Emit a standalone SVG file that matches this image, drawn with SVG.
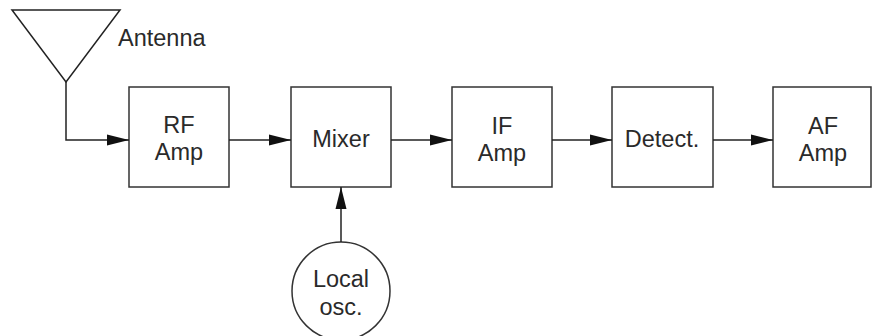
<svg xmlns="http://www.w3.org/2000/svg" width="872" height="336" viewBox="0 0 872 336">
<style>
.b{fill:#fff;stroke:#333;stroke-width:1.5}
.c{fill:none;stroke:#222;stroke-width:1.5}
text{font-family:"Liberation Sans",Arial,sans-serif;font-size:23.5px;fill:#2a2a2a;text-anchor:middle}
</style>
<defs>
<marker id="ah" markerUnits="userSpaceOnUse" markerWidth="22" markerHeight="12" refX="22" refY="6" orient="auto">
<path d="M0,0.5 L22,6 L0,11.5 Z" fill="#111"/>
</marker>
</defs>
<g id="antenna">
<path class="c" d="M12,10 L120,10 L66,82 Z"/>
<text x="118" y="46" style="text-anchor:start">Antenna</text>
</g>
<g id="rfamp"><rect class="b" x="129" y="87" width="100" height="100"/><text x="179" y="133">RF</text><text x="179" y="160">Amp</text></g>
<g id="mixer"><rect class="b" x="291" y="87" width="100" height="100"/><text x="341" y="147">Mixer</text></g>
<g id="ifamp"><rect class="b" x="452" y="87" width="100" height="100"/><text x="502" y="134">IF</text><text x="502" y="161">Amp</text></g>
<g id="detect"><rect class="b" x="612" y="87" width="101" height="100"/><text x="662" y="147">Detect.</text></g>
<g id="afamp"><rect class="b" x="773" y="87" width="98" height="100"/><text x="823" y="134">AF</text><text x="823" y="161">Amp</text></g>
<g id="localosc"><circle class="b" cx="341" cy="291" r="49"/><text x="341" y="287">Local</text><text x="341" y="315">osc.</text></g>
<g id="connectors">
<path class="c" d="M66,82 L66,140 L129,140" marker-end="url(#ah)"/>
<path class="c" d="M229,140 L291,140" marker-end="url(#ah)"/>
<path class="c" d="M391,140 L452,140" marker-end="url(#ah)"/>
<path class="c" d="M552,140 L612,140" marker-end="url(#ah)"/>
<path class="c" d="M713,140 L773,140" marker-end="url(#ah)"/>
<path class="c" d="M341,242 L341,187" marker-end="url(#ah)"/>
</g>
</svg>
